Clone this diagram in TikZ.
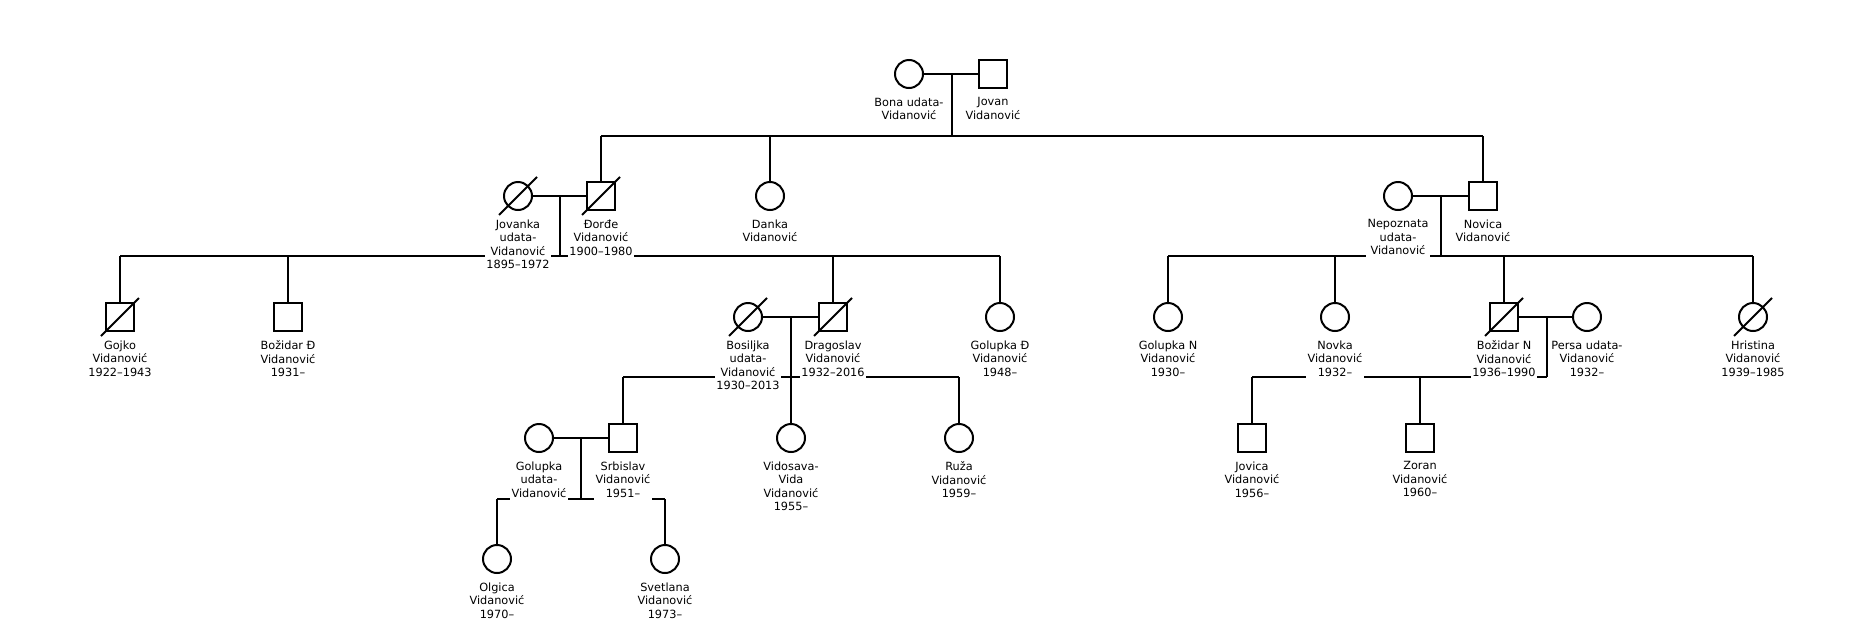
\documentclass[tikz,border=0pt]{standalone}
\usepackage{fontspec}
\setmainfont{DejaVu Sans}
\begin{document}
\begin{tikzpicture}[x=1pt,y=-1pt,
  line width=2pt,
  female/.style={circle,draw,fill=white,minimum size=28pt,inner sep=0pt,line width=2pt},
  male/.style={rectangle,draw,fill=white,minimum size=28pt,inner sep=0pt,line width=2pt},
  lbl/.style={fill=white,inner sep=1.5pt,align=center,anchor=north,
    font=\fontsize{11.3}{13.5}\selectfont},
  rel/.style={line width=2pt}]
\useasboundingbox (0,0) rectangle (1875,635);

% ---------- symbols ----------
% generation 1
\node[female] (bona) at (909,74) {};
\node[male] (jovan) at (993,74) {};
% generation 2
\node[female] (jovanka) at (518,196) {};
\node[male] (dorde) at (601,196) {};
\node[female] (danka) at (770,196) {};
\node[female] (nepoz) at (1398,196) {};
\node[male] (novica) at (1483,196) {};
% generation 3
\node[male] (gojko) at (120,317) {};
\node[male] (bozidarD) at (288,317) {};
\node[female] (bosiljka) at (748,317) {};
\node[male] (dragoslav) at (833,317) {};
\node[female] (golupkaD) at (1000,317) {};
\node[female] (golupkaN) at (1168,317) {};
\node[female] (novka) at (1335,317) {};
\node[male] (bozidarN) at (1504,317) {};
\node[female] (persa) at (1587,317) {};
\node[female] (hristina) at (1753,317) {};
% generation 4
\node[female] (golupkaU) at (539,438) {};
\node[male] (srbislav) at (623,438) {};
\node[female] (vidosava) at (791,438) {};
\node[female] (ruza) at (959,438) {};
\node[male] (jovica) at (1252,438) {};
\node[male] (zoran) at (1420,438) {};
% generation 5
\node[female] (olgica) at (497,559) {};
\node[female] (svetlana) at (665,559) {};

% ---------- marriage points and sibship lines ----------
\coordinate (m1) at (952,74);
\coordinate (s1L) at (601,136);  \coordinate (s1R) at (1483,136);
\coordinate (m2) at (560,196);
\coordinate (s2L) at (120,256);  \coordinate (s2R) at (1000,256);
\coordinate (m3) at (1441,196);
\coordinate (s3L) at (1168,256); \coordinate (s3R) at (1753,256);
\coordinate (m4) at (791,317);
\coordinate (s4L) at (623,377);  \coordinate (s4R) at (959,377);
\coordinate (m5) at (1547,317);
\coordinate (s5L) at (1252,377); \coordinate (s5R) at (1547,377);
\coordinate (m6) at (581,438);
\coordinate (s6L) at (497,499);  \coordinate (s6R) at (665,499);

% marriages
\draw[rel] (bona) -- (jovan);
\draw[rel] (jovanka) -- (dorde);
\draw[rel] (nepoz) -- (novica);
\draw[rel] (bosiljka) -- (dragoslav);
\draw[rel] (bozidarN) -- (persa);
\draw[rel] (golupkaU) -- (srbislav);
% family 1
\draw[rel] (m1) -- (m1 |- s1L);
\draw[rel] (s1L) -- (s1R);
\draw[rel] (s1L) -- (dorde);
\draw[rel] (danka |- s1L) -- (danka);
\draw[rel] (s1R) -- (novica);
% family 2
\draw[rel] (m2) -- (m2 |- s2L);
\draw[rel] (s2L) -- (s2R);
\draw[rel] (s2L) -- (gojko);
\draw[rel] (bozidarD |- s2L) -- (bozidarD);
\draw[rel] (dragoslav |- s2L) -- (dragoslav);
\draw[rel] (s2R) -- (golupkaD);
% family 3
\draw[rel] (m3) -- (m3 |- s3L);
\draw[rel] (s3L) -- (s3R);
\draw[rel] (s3L) -- (golupkaN);
\draw[rel] (novka |- s3L) -- (novka);
\draw[rel] (bozidarN |- s3L) -- (bozidarN);
\draw[rel] (s3R) -- (hristina);
% family 4
\draw[rel] (m4) -- (vidosava);
\draw[rel] (s4L) -- (s4R);
\draw[rel] (s4L) -- (srbislav);
\draw[rel] (s4R) -- (ruza);
% family 5
\draw[rel] (m5) -- (s5R);
\draw[rel] (s5L) -- (s5R);
\draw[rel] (s5L) -- (jovica);
\draw[rel] (zoran |- s5L) -- (zoran);
% family 6
\draw[rel] (m6) -- (m6 |- s6L);
\draw[rel] (s6L) -- (s6R);
\draw[rel] (s6L) -- (olgica);
\draw[rel] (s6R) -- (svetlana);

% deceased slashes
\foreach \n in {jovanka,dorde,gojko,bosiljka,dragoslav,bozidarN,hristina}
  \draw[rel] ([shift={(-19,19)}]\n.center) -- ([shift={(19,-19)}]\n.center);

% ---------- labels ----------
\node[lbl] (bona-l) at ([yshift=-21]bona.center) {Bona udata-\\Vidanović\strut};
\node[lbl] (jovan-l) at ([yshift=-21]jovan.center) {Jovan\\Vidanović\strut};
\node[lbl] (jovanka-l) at ([yshift=-21]jovanka.center) {Jovanka\\udata-\\Vidanović\\1895–1972\strut};
\node[lbl] (dorde-l) at ([yshift=-21]dorde.center) {Đorđe\\Vidanović\\1900–1980\strut};
\node[lbl] (danka-l) at ([yshift=-21]danka.center) {Danka\\Vidanović\strut};
\node[lbl] (nepoz-l) at ([yshift=-21]nepoz.center) {Nepoznata\\udata-\\Vidanović\strut};
\node[lbl] (novica-l) at ([yshift=-21]novica.center) {Novica\\Vidanović\strut};
\node[lbl] (gojko-l) at ([yshift=-21]gojko.center) {Gojko\\Vidanović\\1922–1943\strut};
\node[lbl] (bozidarD-l) at ([yshift=-21]bozidarD.center) {Božidar Đ\\Vidanović\\1931–\strut};
\node[lbl] (bosiljka-l) at ([yshift=-21]bosiljka.center) {Bosiljka\\udata-\\Vidanović\\1930–2013\strut};
\node[lbl] (dragoslav-l) at ([yshift=-21]dragoslav.center) {Dragoslav\\Vidanović\\1932–2016\strut};
\node[lbl] (golupkaD-l) at ([yshift=-21]golupkaD.center) {Golupka Đ\\Vidanović\\1948–\strut};
\node[lbl] (golupkaN-l) at ([yshift=-21]golupkaN.center) {Golupka N\\Vidanović\\1930–\strut};
\node[lbl] (novka-l) at ([yshift=-21]novka.center) {Novka\\Vidanović\\1932–\strut};
\node[lbl] (bozidarN-l) at ([yshift=-21]bozidarN.center) {Božidar N\\Vidanović\\1936–1990\strut};
\node[lbl] (persa-l) at ([yshift=-21]persa.center) {Persa udata-\\Vidanović\\1932–\strut};
\node[lbl] (hristina-l) at ([yshift=-21]hristina.center) {Hristina\\Vidanović\\1939–1985\strut};
\node[lbl] (golupkaU-l) at ([yshift=-21]golupkaU.center) {Golupka\\udata-\\Vidanović\strut};
\node[lbl] (srbislav-l) at ([yshift=-21]srbislav.center) {Srbislav\\Vidanović\\1951–\strut};
\node[lbl] (vidosava-l) at ([yshift=-21]vidosava.center) {Vidosava-\\Vida\\Vidanović\\1955–\strut};
\node[lbl] (ruza-l) at ([yshift=-21]ruza.center) {Ruža\\Vidanović\\1959–\strut};
\node[lbl] (jovica-l) at ([yshift=-21]jovica.center) {Jovica\\Vidanović\\1956–\strut};
\node[lbl] (zoran-l) at ([yshift=-21]zoran.center) {Zoran\\Vidanović\\1960–\strut};
\node[lbl] (olgica-l) at ([yshift=-21]olgica.center) {Olgica\\Vidanović\\1970–\strut};
\node[lbl] (svetlana-l) at ([yshift=-21]svetlana.center) {Svetlana\\Vidanović\\1973–\strut};
\end{tikzpicture}
\end{document}
